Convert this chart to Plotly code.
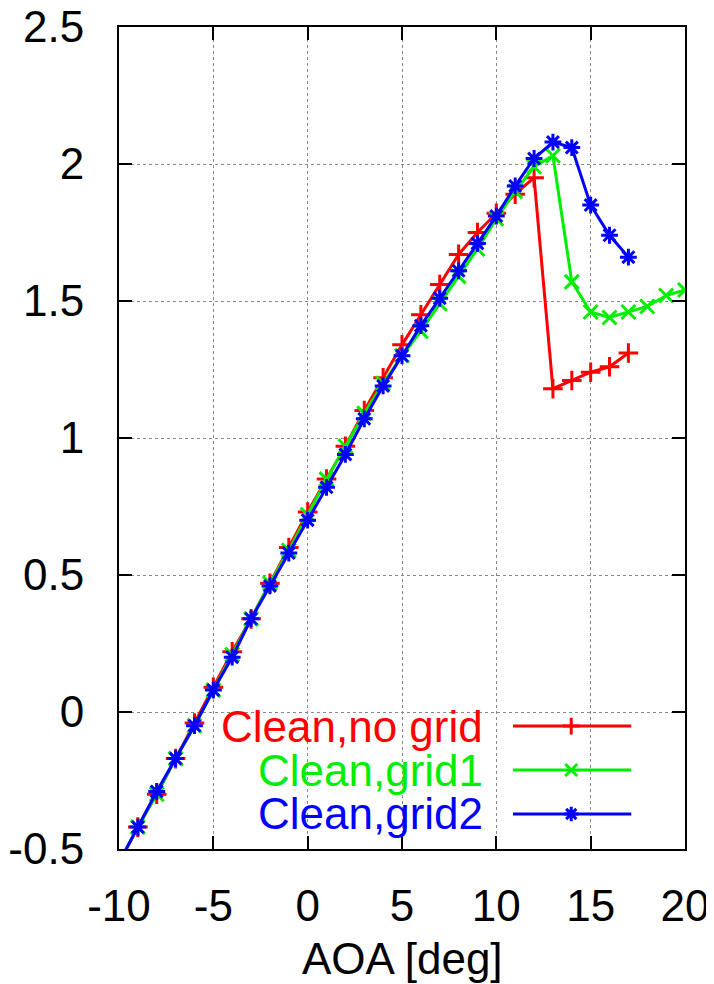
import plotly.graph_objects as go

# ---- data ----
aoa_nogrid = list(range(-10, 18))
cl_nogrid = [-0.55, -0.42, -0.30, -0.17, -0.04, 0.09, 0.22, 0.34, 0.47, 0.60,
             0.73, 0.85, 0.97, 1.10, 1.22, 1.34, 1.45, 1.56, 1.67, 1.75,
             1.82, 1.89, 1.95, 1.18, 1.21, 1.24, 1.26, 1.31]

aoa_grid1 = list(range(-10, 21))
cl_grid1 = [-0.55, -0.42, -0.30, -0.17, -0.05, 0.08, 0.21, 0.34, 0.47, 0.59,
            0.72, 0.85, 0.97, 1.09, 1.20, 1.30, 1.39, 1.49, 1.59, 1.69,
            1.80, 1.90, 1.99, 2.03, 1.57, 1.46, 1.44, 1.46, 1.48, 1.52, 1.54]

aoa_grid2 = list(range(-10, 18))
cl_grid2 = [-0.55, -0.42, -0.29, -0.17, -0.05, 0.08, 0.20, 0.34, 0.46, 0.58,
            0.70, 0.82, 0.94, 1.07, 1.19, 1.30, 1.41, 1.51, 1.61, 1.71,
            1.81, 1.92, 2.02, 2.08, 2.06, 1.85, 1.74, 1.66]

names = ["Clean,no grid", "Clean,grid1", "Clean,grid2"]
colors = ["#ff0000", "#00ee00", "#0000ff"]
symbols = ["cross-thin", "x-thin", "asterisk"]

x_ticks = [-10, -5, 0, 5, 10, 15, 20]
y_ticks = [-0.5, 0, 0.5, 1, 1.5, 2, 2.5]

FONT = "Liberation Sans, Arial, sans-serif"
FS = 44
LW = 3
MS = 14

fig = go.Figure()

series = [(aoa_nogrid, cl_nogrid), (aoa_grid1, cl_grid1), (aoa_grid2, cl_grid2)]
for (xs, ys), name, c, s in zip(series, names, colors, symbols):
    fig.add_trace(go.Scatter(
        x=xs, y=ys, mode="lines+markers", name=name,
        line=dict(color=c, width=LW),
        marker=dict(symbol=s, size=MS, color=c, line=dict(color=c, width=LW)),
        showlegend=False,
    ))

# ---- gnuplot-style key (text then sample) on a hidden overlay axis ----
key_rows = [0.1496, 0.0961, 0.0426]
key_x0, key_xm, key_x1 = 0.696, 0.799, 0.905
for row, name, c, s in zip(key_rows, names, colors, symbols):
    fig.add_trace(go.Scatter(
        x=[key_x0, key_x1], y=[row, row], mode="lines",
        line=dict(color=c, width=LW), xaxis="x2", yaxis="y2",
        showlegend=False, hoverinfo="skip"))
    fig.add_trace(go.Scatter(
        x=[key_xm], y=[row], mode="markers",
        marker=dict(symbol=s, size=MS - 2, color=c, line=dict(color=c, width=LW)),
        xaxis="x2", yaxis="y2", showlegend=False, hoverinfo="skip"))
    fig.add_annotation(
        x=0.647, y=row, xref="paper", yref="paper", text=name,
        showarrow=False, xanchor="right", yanchor="middle",
        font=dict(family=FONT, size=FS, color=c))

# white key box hiding the grid
fig.add_shape(type="rect", xref="paper", yref="paper",
              x0=0.042, x1=0.95, y0=0.0, y1=0.175,
              fillcolor="white", line=dict(width=0), layer="between")

# x axis title
fig.add_annotation(x=0.5, y=-0.133, xref="paper", yref="paper",
                   text="AOA [deg]", showarrow=False,
                   xanchor="center", yanchor="middle",
                   font=dict(family=FONT, size=FS, color="black"))

axis_common = dict(
    showline=True, linecolor="black", linewidth=2, mirror="ticks",
    ticks="inside", ticklen=13, tickwidth=2, tickcolor="black",
    showgrid=True, gridcolor="#888888", gridwidth=1, griddash="dot",
    zeroline=False, automargin=False, ticklabeloverflow="allow",
    tickfont=dict(family=FONT, size=FS, color="black"),
)

fig.update_layout(
    width=706, height=976,
    margin=dict(l=111, r=29, t=19, b=135),
    paper_bgcolor="white", plot_bgcolor="white",
    xaxis=dict(range=[-10, 20], tickvals=x_ticks,
               ticktext=[str(v) for v in x_ticks],
               ticklabelstandoff=17, **axis_common),
    yaxis=dict(range=[-0.5, 2.5], tickvals=y_ticks,
               ticktext=["-0.5", "0", "0.5", "1", "1.5", "2", "2.5"],
               ticklabelstandoff=24, **axis_common),
    xaxis2=dict(range=[0, 1], overlaying="x", visible=False, fixedrange=True),
    yaxis2=dict(range=[0, 1], overlaying="y", visible=False, fixedrange=True),
    font=dict(family=FONT),
)

fig.write_html("out.html")
